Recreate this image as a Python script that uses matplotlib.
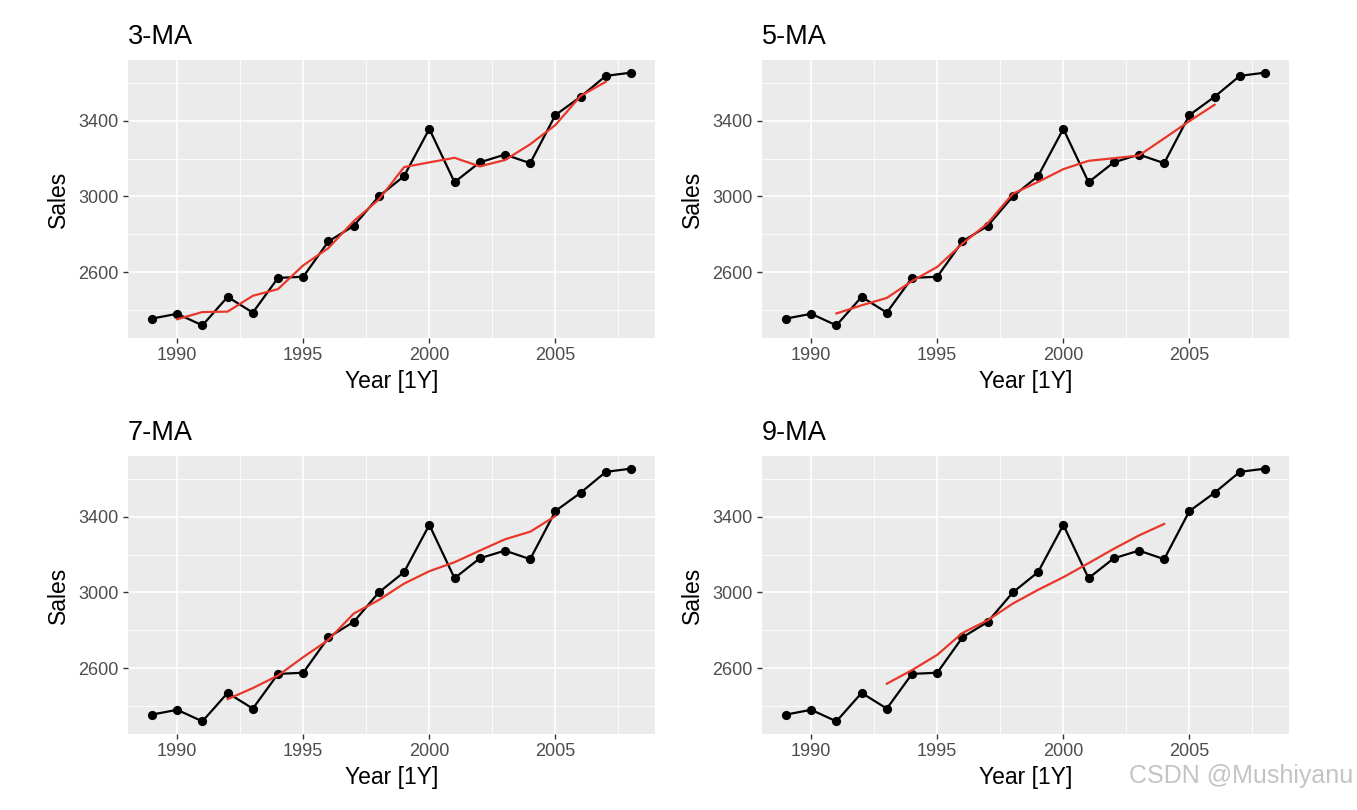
import matplotlib
matplotlib.use("Agg")
import matplotlib.pyplot as plt
from matplotlib.ticker import MultipleLocator

plt.rcParams["font.family"] = ["Liberation Sans", "DejaVu Sans"]

# residential electricity sales, 1989-2008
YEARS = list(range(1989, 2009))
SALES = [2354.34, 2379.71, 2318.52, 2468.99, 2386.09, 2569.47, 2575.72,
         2762.72, 2844.50, 3000.70, 3108.10, 3357.50, 3075.70, 3180.60,
         3221.60, 3176.20, 3430.60, 3527.48, 3637.89, 3655.00]

# moving averages (centred), read per year
MA3_YEARS = list(range(1990, 2008))
MA3 = [2350.86, 2389.07, 2391.20, 2474.85, 2510.43, 2635.97, 2727.65,
       2869.31, 2984.43, 3155.43, 3180.43, 3204.60, 3159.30, 3192.80,
       3276.13, 3378.09, 3531.99, 3606.79]
MA5_YEARS = list(range(1991, 2007))
MA5 = [2381.53, 2424.56, 2463.76, 2552.60, 2627.70, 2750.62, 2858.35,
       3014.70, 3077.30, 3144.52, 3188.70, 3202.32, 3216.94, 3307.30,
       3398.75, 3485.43]
MA7_YEARS = list(range(1992, 2006))
MA7 = [2436.12, 2494.46, 2560.86, 2658.31, 2749.61, 2888.39, 2960.71,
       3047.12, 3112.67, 3160.06, 3221.47, 3281.38, 3321.44, 3404.20]
MA9_YEARS = list(range(1993, 2005))
MA9 = [2517.78, 2589.60, 2670.53, 2785.98, 2853.39, 2941.67, 3014.13,
       3080.85, 3155.06, 3230.94, 3301.74, 3362.51]

PANELS = [("3-MA", MA3_YEARS, MA3), ("5-MA", MA5_YEARS, MA5),
          ("7-MA", MA7_YEARS, MA7), ("9-MA", MA9_YEARS, MA9)]

W, H = 1357, 810
fig = plt.figure(figsize=(W / 100, H / 100), dpi=100)
fig.patch.set_facecolor("white")

# panel boxes in pixels: left, top, right, bottom
BOXES = [(128, 60, 655, 338), (762, 60, 1289, 338),
         (128, 456, 655, 734), (762, 456, 1289, 734)]

ymin, ymax = min(SALES), max(SALES)
yr = ymax - ymin
xmin, xmax = YEARS[0], YEARS[-1]
xr = xmax - xmin

for (title, mx, my), (l, t, r, b) in zip(PANELS, BOXES):
    ax = fig.add_axes([l / W, 1 - b / H, (r - l) / W, (b - t) / H])
    ax.set_facecolor("#EBEBEB")
    for s in ax.spines.values():
        s.set_visible(False)
    ax.set_xlim(xmin - 0.05 * xr, xmax + 0.05 * xr)
    ax.set_ylim(ymin - 0.05 * yr, ymax + 0.05 * yr)
    ax.xaxis.set_major_locator(MultipleLocator(5))
    ax.xaxis.set_minor_locator(MultipleLocator(2.5))
    ax.yaxis.set_major_locator(MultipleLocator(400, offset=200))
    ax.yaxis.set_minor_locator(MultipleLocator(200))
    ax.grid(which="major", color="white", linewidth=1.2)
    ax.grid(which="minor", color="white", linewidth=0.6)
    ax.set_axisbelow(True)
    ax.tick_params(which="major", length=3.5, width=1.0, color="#333333",
                   labelsize=13, labelcolor="#4D4D4D", pad=3)
    ax.tick_params(which="minor", length=0)

    ax.plot(YEARS, SALES, color="black", linewidth=1.6, zorder=3)
    ax.scatter(YEARS, SALES, color="black", s=44, zorder=4, linewidths=0)
    ax.plot(mx, my, color="#E8372A", linewidth=1.6, zorder=5)

    ax.set_title(title, loc="left", fontsize=19.5, pad=11.5)
    ax.set_xlabel("Year [1Y]", fontsize=16.5, labelpad=4.5)
    ax.set_ylabel("Sales", fontsize=16.5, labelpad=6)

fig.text(1353 / W, 1 - 776 / H, "CSDN @Mushiyanu", ha="right", va="center",
         fontsize=18, color="#C4C4C4")

fig.savefig("out.png", dpi=100, facecolor="white")
